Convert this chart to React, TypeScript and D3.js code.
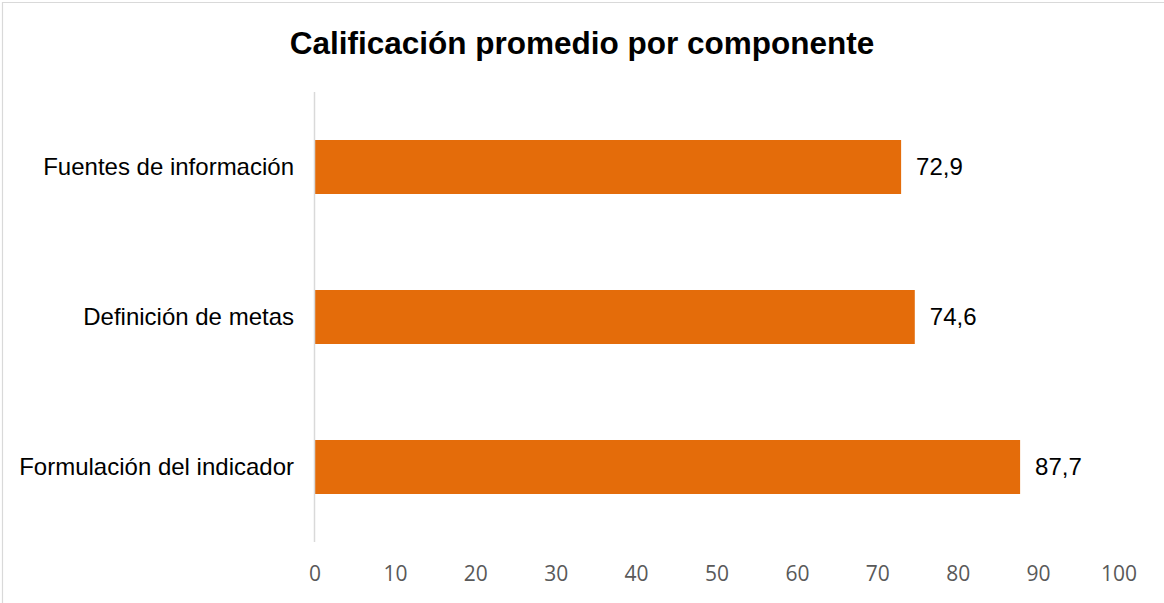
import React, { useEffect, useRef } from 'react';
import * as d3 from 'd3';

const categories = ['Fuentes de información', 'Definición de metas', 'Formulación del indicador'];
const values = [72.9, 74.6, 87.7];
const xTicks = [0, 10, 20, 30, 40, 50, 60, 70, 80, 90, 100];
const title = 'Calificación promedio por componente';

const App: React.FC = () => {
  const ref = useRef<SVGSVGElement>(null);

  useEffect(() => {
    const width = 1164;
    const height = 603;
    const margin = { top: 92, right: 45, bottom: 61, left: 315 };

    const svg = d3.select(ref.current)
      .attr('width', width)
      .attr('height', height);
    svg.selectAll('*').remove();

    svg.append('rect')
      .attr('width', width)
      .attr('height', height)
      .attr('fill', '#ffffff');

    // chart border (only top/left visible in the crop)
    svg.append('path')
      .attr('d', `M2.5,${height + 5}V2.5H${width + 5}`)
      .attr('fill', 'none')
      .attr('stroke', '#d9d9d9')
      .attr('stroke-width', 1.2);

    svg.append('text')
      .attr('x', width / 2)
      .attr('y', 54)
      .attr('text-anchor', 'middle')
      .attr('font-family', 'Liberation Sans, Arial, sans-serif')
      .attr('font-weight', 'bold')
      .attr('font-size', 31.5)
      .attr('fill', '#000')
      .text(title);

    const x = d3.scaleLinear()
      .domain([0, 100])
      .range([margin.left, width - margin.right]);

    const y = d3.scaleBand()
      .domain(categories)
      .range([margin.top, height - margin.bottom])
      .paddingInner(0.64)
      .paddingOuter(0.32);

    const data = categories.map((name, i) => ({ name, value: values[i] }));

    svg.selectAll('rect.bar')
      .data(data)
      .join('rect')
      .attr('class', 'bar')
      .attr('x', x(0))
      .attr('y', d => y(d.name)!)
      .attr('width', d => x(d.value) - x(0))
      .attr('height', y.bandwidth())
      .attr('fill', '#e46c0a');

    // vertical axis line
    svg.append('line')
      .attr('x1', x(0) - 0.5)
      .attr('x2', x(0) - 0.5)
      .attr('y1', margin.top)
      .attr('y2', height - margin.bottom)
      .attr('stroke', '#d9d9d9')
      .attr('stroke-width', 1.5);

    svg.selectAll('text.cat')
      .data(data)
      .join('text')
      .attr('class', 'cat')
      .attr('x', 294)
      .attr('y', d => y(d.name)! + y.bandwidth() / 2)
      .attr('dy', '0.35em')
      .attr('text-anchor', 'end')
      .attr('font-family', 'Liberation Sans, Arial, sans-serif')
      .attr('font-size', 24)
      .attr('fill', '#000')
      .text(d => d.name);

    svg.selectAll('text.val')
      .data(data)
      .join('text')
      .attr('class', 'val')
      .attr('x', d => x(d.value) + 15)
      .attr('y', d => y(d.name)! + y.bandwidth() / 2)
      .attr('dy', '0.35em')
      .attr('font-family', 'Liberation Sans, Arial, sans-serif')
      .attr('font-size', 24)
      .attr('fill', '#000')
      .text(d => d3.format('.1f')(d.value).replace('.', ','));

    svg.selectAll('text.tick')
      .data(xTicks)
      .join('text')
      .attr('class', 'tick')
      .attr('x', d => x(d))
      .attr('y', 574)
      .attr('dy', '0.35em')
      .attr('text-anchor', 'middle')
      .attr('font-family', 'Open Sans, sans-serif')
      .attr('font-size', 21)
      .attr('fill', '#595959')
      .text(d => String(d));
  }, []);

  return (
    <div style={{ position: 'absolute', left: 0, top: 0 }}>
      <svg ref={ref} style={{ display: 'block' }} />
    </div>
  );
};

export default App;
